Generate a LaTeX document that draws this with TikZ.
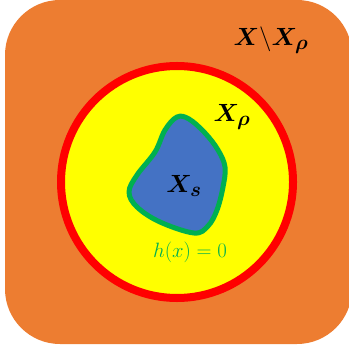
\documentclass[tikz,border=0pt]{standalone}
\usepackage{amsmath,bm}
\definecolor{bgorange}{HTML}{ED7D31}
\definecolor{ringred}{HTML}{FF0000}
\definecolor{fillyellow}{HTML}{FFFF00}
\definecolor{blobblue}{HTML}{4472C4}
\definecolor{blobgreen}{HTML}{00B050}
\tikzset{
  biglabel/.style={font=\fontsize{30}{36}\selectfont, text=black, inner sep=0pt},
  smalllabel/.style={font=\fontsize{20}{24}\selectfont, text=blobgreen, inner sep=0pt},
}
\begin{document}
\begin{tikzpicture}[x=1pt,y=-1pt]
\useasboundingbox (0,0) rectangle (348,352);
\fill[bgorange, rounded corners=55pt] (5,0) rectangle (352,344);
\draw[ringred, line width=8pt, fill=fillyellow] (177,182) circle (116);
\draw[blobgreen, line width=5pt, fill=blobblue, line join=round]
  plot[smooth cycle, tension=0.6] coordinates {
   (177,117) (165,130) (155,152) (137,175) (129,192) (137,207) (160,222)
   (194,233) (208,226) (217,210) (223,187) (225,167) (218,150) (205,133) (189,119)};
\node[biglabel] (outer) at (271,40) {$\bm{X}\backslash\bm{X}_{\bm{\rho}}$};
\node[biglabel] (rho) at (232,117) {$\bm{X}_{\bm{\rho}}$};
\node[biglabel] (safe) at (184,186) {$\bm{X}_{\bm{s}}$};
\node[smalllabel] (h) at (190,252) {$h(x)=0$};
\end{tikzpicture}
\end{document}
